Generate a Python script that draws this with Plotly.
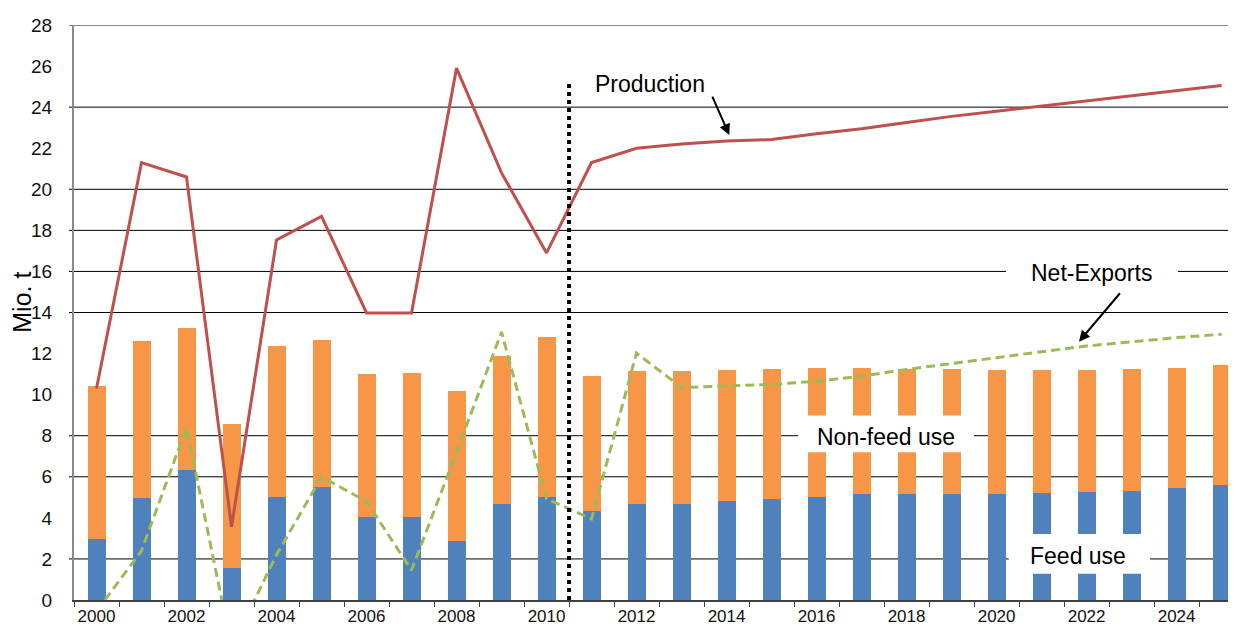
import plotly.graph_objects as go

# ---------------- data ----------------
YEARS = list(range(2000, 2026))
FEED_USE = [2.95, 4.95, 6.33, 1.58, 5.01, 5.52, 4.02, 4.02, 2.88, 4.68, 5.00, 4.32, 4.69,
            4.69, 4.82, 4.94, 5.02, 5.14, 5.14, 5.14, 5.14, 5.20, 5.27, 5.33, 5.45, 5.62]
NON_FEED_USE = [7.48, 7.66, 6.91, 6.98, 7.36, 7.16, 6.98, 7.03, 7.31, 7.19, 7.80, 6.61, 6.44,
                6.44, 6.38, 6.31, 6.30, 6.18, 6.10, 6.12, 6.06, 6.00, 5.93, 5.92, 5.87, 5.83]
PRODUCTION = [10.3, 21.3, 20.6, 3.56, 17.53, 18.68, 13.98, 13.98, 25.9, 20.8, 16.9, 21.3, 22.0,
              22.2, 22.35, 22.42, 22.7, 22.95, 23.25, 23.55, 23.8, 24.05, 24.33, 24.58, 24.83, 25.05]
NET_EXPORTS = [-0.55, 2.4, 8.4, -2.3, 2.2, 6.0, 4.8, 1.45, 7.2, 13.05, 4.93, 3.95, 12.02,
               10.35, 10.42, 10.5, 10.65, 10.9, 11.23, 11.5, 11.8, 12.09, 12.37, 12.57, 12.78, 12.94]

X_TICK_VALUES = list(range(2000, 2025, 2))
X_TICK_LABELS = [str(v) for v in X_TICK_VALUES]
Y_TICK_VALUES = list(range(0, 29, 2))
Y_TICK_LABELS = [str(v) for v in Y_TICK_VALUES]
GRID_LEVELS = [2, 6, 8, 14, 16, 18, 20, 24]

PROJECTION_START = 2010.5
DIVIDER_TOP = 25.2

# ---------------- styles ----------------
BLUE = "#4F81BD"
ORANGE = "#F79646"
RED = "#C0504D"
GREEN = "#9BBB59"
FONT = "Liberation Sans, Arial, sans-serif"

# the page body adds an 8px offset, so the figure is 8px smaller than the window
W, H = 1228, 624
ML, MR, MT, MB = 66, 0, 17, 32
PLOT_W = W - ML - MR

fig = go.Figure()
fig.add_trace(go.Bar(x=YEARS, y=FEED_USE, marker=dict(color=BLUE, line=dict(width=0)),
                     width=0.4, name="Feed use"))
fig.add_trace(go.Bar(x=YEARS, y=NON_FEED_USE, marker=dict(color=ORANGE, line=dict(width=0)),
                     width=0.4, name="Non-feed use"))
fig.add_trace(go.Scatter(x=YEARS, y=PRODUCTION, mode="lines", name="Production",
                         line=dict(color=RED, width=3)))
fig.add_trace(go.Scatter(x=YEARS, y=NET_EXPORTS, mode="lines", name="Net-Exports",
                         line=dict(color=GREEN, width=3, dash="9px,5px")))

shapes = []
tick_ext = -5.0 / PLOT_W
for g in GRID_LEVELS:
    shapes.append(dict(type="line", xref="paper", yref="y", x0=tick_ext, x1=1, y0=g, y1=g,
                       line=dict(color="black", width=1), layer="below"))
# top border of plot area
shapes.append(dict(type="line", xref="paper", yref="y", x0=tick_ext, x1=1, y0=28, y1=28,
                   line=dict(color="#8a8a8a", width=2), layer="above"))
# white label boxes
boxes = [
    (2015.59, 2019.50, 7.20, 8.98),
    (2020.27, 2023.41, 1.28, 3.22),
    (2020.21, 2024.03, 15.35, 16.55),
]
for x0, x1, y0, y1 in boxes:
    shapes.append(dict(type="rect", xref="x", yref="y", x0=x0, x1=x1, y0=y0, y1=y1,
                       fillcolor="white", line=dict(width=0), layer="above"))
# projection divider
shapes.append(dict(type="line", xref="x", yref="y", x0=PROJECTION_START, x1=PROJECTION_START,
                   y0=0, y1=DIVIDER_TOP, line=dict(color="black", width=4, dash="dot"),
                   layer="above"))

annotations = [
    dict(x=2012.3, y=25.15, xref="x", yref="y", text="Production", showarrow=False,
         font=dict(family=FONT, size=23, color="black")),
    dict(x=2014.06, y=22.64, xref="x", yref="y", ax=2013.67, ay=24.59, axref="x", ayref="y",
         text="", showarrow=True, arrowhead=2, arrowsize=1.1, arrowwidth=2, arrowcolor="black"),
    dict(x=2022.1, y=15.92, xref="x", yref="y", text="Net-Exports", showarrow=False,
         font=dict(family=FONT, size=23, color="black")),
    dict(x=2021.83, y=12.58, xref="x", yref="y", ax=2022.77, ay=15.01, axref="x", ayref="y",
         text="", showarrow=True, arrowhead=2, arrowsize=1.1, arrowwidth=2, arrowcolor="black"),
    dict(x=2017.54, y=7.95, xref="x", yref="y", text="Non-feed use", showarrow=False,
         font=dict(family=FONT, size=23, color="black")),
    dict(x=2021.81, y=2.15, xref="x", yref="y", text="Feed use", showarrow=False,
         font=dict(family=FONT, size=23, color="black")),
    dict(x=-(ML - 14.5) / PLOT_W, y=14.5, xref="paper", yref="y", text="Mio. t",
         xanchor="center", yanchor="middle",
         showarrow=False, textangle=-90, font=dict(family=FONT, size=25, color="black")),
]

fig.update_layout(
    width=W, height=H,
    margin=dict(l=ML, r=MR, t=MT, b=MB),
    barmode="stack",
    showlegend=False,
    plot_bgcolor="white",
    paper_bgcolor="white",
    shapes=shapes,
    annotations=annotations,
    xaxis=dict(
        range=[1999.5, 2025.32],
        tickmode="array", tickvals=X_TICK_VALUES, ticktext=X_TICK_LABELS,
        ticks="", showgrid=False, zeroline=False,
        showline=True, linecolor="#404040", linewidth=2,
        tickfont=dict(family=FONT, size=17, color="#111"),
        ticklabelstandoff=0,
        minor=dict(tick0=1999.5, dtick=1, ticks="outside", ticklen=5,
                   tickcolor="#404040", tickwidth=1, showgrid=False),
    ),
    yaxis=dict(
        range=[0, 28],
        tickmode="array", tickvals=Y_TICK_VALUES, ticktext=Y_TICK_LABELS,
        ticks="", showgrid=False, zeroline=False,
        showline=True, linecolor="#8a8a8a", linewidth=2,
        tickfont=dict(family=FONT, size=19, color="#111"),
        ticklabelstandoff=16,
    ),
)

fig.write_html("out.html")
